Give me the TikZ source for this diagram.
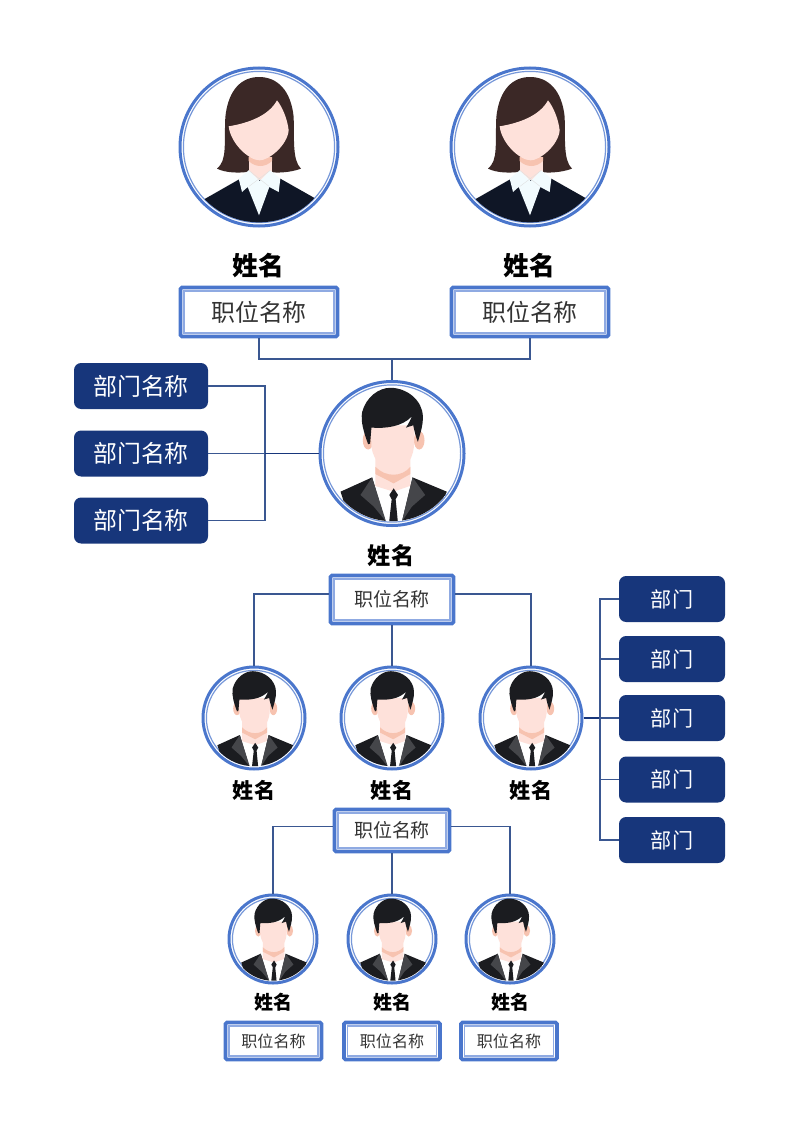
\documentclass[tikz,border=0pt]{standalone}
\usepackage{fontspec}
\setmainfont{Noto Sans CJK SC}
\usetikzlibrary{positioning}
\def\px{.025cm}
\definecolor{ringblue}{HTML}{4A76CC}
\definecolor{ringpale}{HTML}{8FAAE2}
\definecolor{deptblue}{HTML}{17367B}
\definecolor{linkblue}{HTML}{3A5791}
\definecolor{hairbrown}{HTML}{3B2826}
\definecolor{skin}{HTML}{FEE1DA}
\definecolor{skindark}{HTML}{F7C3B0}
\definecolor{suitnavy}{HTML}{0F1626}
\definecolor{suitblack}{HTML}{1B1C20}
\definecolor{lapelgrey}{HTML}{45464A}
\tikzset{
  avatar/.style={circle,draw=ringblue,line width=3*\px,fill=white,inner sep=0pt,minimum size=#1*\px,
    path picture={\draw[ringblue!75,line width=1.2*\px] (path picture bounding box.center) circle (#1/2-3.4);}},
  jobbox/.style={draw=ringblue,line width=3.6*\px,fill=white,rounded corners=1pt,inner sep=0pt,text=black!80,
    path picture={\draw[ringpale,line width=1.4*\px,sharp corners] ([shift={(3.6,-3.6)}]path picture bounding box.south west) rectangle ([shift={(-3.6,3.6)}]path picture bounding box.north east);}},
  deptbox/.style={fill=deptblue,rounded corners=5pt,inner sep=0pt,text=white},
  link/.style={draw=linkblue,line width=1.25*\px},
  mainlink/.style={draw=deptblue,line width=1.8*\px},
  pics/womanhead/.style={code={
    \clip (0,0) circle (226);
    \fill[suitnavy] (-170,160) -- (-56,95) -- (64,95) -- (170,155) -- (170,260) -- (-170,260) -- cycle;
    \fill[hairbrown] (-126,65) .. controls (-95,40) and (-105,-10) .. (-101,-90) .. controls (-92,-175) and (-50,-210) .. (0,-210) .. controls (55,-210) and (96,-170) .. (104,-90) .. controls (106,-20) and (100,40) .. (126,65) .. controls (90,78) and (50,78) .. (34,75) -- (-36,75) .. controls (-60,78) and (-100,78) .. (-126,65) -- cycle;
    \fill[skin] (-31,30) rectangle (39,100);
    \fill[skindark] (-31,30) -- (-31,42) .. controls (-10,62) and (18,62) .. (39,42) -- (39,30) -- cycle;
    \fill[skin] (-91,-62) .. controls (-30,-72) and (30,-95) .. (54,-140) .. controls (70,-120) and (85,-85) .. (89,-50) .. controls (85,-5) and (30,40) .. (2,40) .. controls (-30,40) and (-85,-10) .. (-91,-62) -- cycle;
    \fill[white!95!cyan] (-61,95) -- (-31,70) -- (2,102) -- (34,70) -- (64,95) -- (59,135) -- (31,120) -- (0,205) -- (-34,120) -- (-51,135) -- cycle;
    \draw[black!12,line width=.3pt] (-31,70) -- (30,118) (34,70) -- (-30,118);
  }},
  pics/manhead/.style={code={
    \clip (0,0) circle (204);
    \fill[white] (-60,90) rectangle (62,210);
    \fill[skin] (-50,10) -- (55,10) -- (55,95) -- (62,95) -- (5,115) -- (-60,95) -- (-50,95) -- cycle;
    \fill[skindark] (-50,40) .. controls (-20,72) and (30,72) .. (55,40) -- (55,62) -- (5,90) -- (-50,62) -- cycle;
    \fill[skindark] (-72,-40) ellipse (16 and 28) (82,-40) ellipse (16 and 28);
    \fill[skin] (-64,-85) -- (68,-85) -- (66,-20) .. controls (62,25) and (30,56) .. (5,56) .. controls (-20,56) and (-56,25) .. (-62,-20) -- cycle;
    \fill[suitblack] (-72,-28) .. controls (-85,-65) and (-95,-95) .. (-90,-125) .. controls (-78,-170) and (-40,-198) .. (-5,-198) .. controls (45,-198) and (92,-160) .. (93,-112) .. controls (94,-85) and (85,-60) .. (78,-35) .. controls (72,-50) and (68,-65) .. (64,-85) -- (42,-78) .. controls (50,-90) and (55,-100) .. (60,-112) .. controls (30,-80) and (-20,-75) .. (-62,-78) -- (-66,-30) -- cycle;
    \fill[suitblack] (-155,115) -- (-60,72) -- (-20,205) -- (-20,225) -- (-120,225) -- cycle;
    \fill[suitblack] (165,115) -- (62,72) -- (30,205) -- (30,225) -- (120,225) -- cycle;
    \fill[lapelgrey] (-60,72) -- (-95,125) -- (-55,160) -- (-18,205) -- cycle;
    \fill[lapelgrey] (62,72) -- (100,125) -- (60,160) -- (30,205) -- cycle;
    \fill[suitblack] (5,105) -- (-8,125) -- (-1,138) -- (-9,210) -- (18,210) -- (11,138) -- (18,125) -- cycle;
  }}
}
\begin{document}
\begin{tikzpicture}[x=.025cm,y=-.025cm]
\useasboundingbox (0,0) rectangle (800,1130);
\def\bignum{\fontsize{17}{20}\selectfont}
\def\midnum{\fontsize{13.5}{16}\selectfont}
\def\smallnum{\fontsize{11.4}{14}\selectfont}
\def\deptnum{\fontsize{15}{18}\selectfont}

\node[avatar=158] (wa) at (259,147) {};
\node[avatar=158] (wb) at (530,147) {};
\node[avatar=144] (boss) at (392,453.5) {};
\pic[scale=80/240] at (wa.center) {womanhead};
\pic[scale=80/240] at (wb.center) {womanhead};
\pic[scale=73/220] at (boss.center) {manhead};

\node[font=\fontsize{18.4}{20}\selectfont\bfseries] (wan) at (258.5,266) {姓名};
\node[font=\fontsize{18.4}{20}\selectfont\bfseries] (wbn) at (529.5,266) {姓名};
\node[jobbox,minimum width=157*\px,minimum height=49*\px,font=\bignum] (wat) at (259,312) {职位名称};
\node[jobbox,minimum width=157*\px,minimum height=49*\px,font=\bignum] (wbt) at (530,312) {职位名称};
\node[font=\fontsize{16.5}{20}\selectfont\bfseries] (bossn) at (391,556) {姓名};
\node[jobbox,minimum width=123*\px,minimum height=48*\px,font=\midnum] (bosst) at (392,599.5) {职位名称};

\foreach \name/\ypos in {da/386,db/453.5,dc/520.5}
  \node[deptbox,minimum width=134*\px,minimum height=46*\px,font=\bignum] (\name) at (141,\ypos) {部门名称};
\foreach \name/\ypos in {ea/599,eb/659,ec/718,ed/779.5,ee/840}
  \node[deptbox,minimum width=106*\px,minimum height=46*\px,font=\deptnum] (\name) at (672,\ypos) {部门};

\foreach \name/\xpos in {ma/254,mb/392,mc/531}{
  \node[avatar=102] (\name) at (\xpos,718) {};
  \pic[scale=52/220] at (\name.center) {manhead};
  \node[font=\deptnum\bfseries] (\name n) at (\xpos,790) {姓名};
}
\node[jobbox,minimum width=115*\px,minimum height=42*\px,font=\midnum] (mbt) at (392,830.5) {职位名称};

\foreach \name/\xpos/\boxpos in {sa/273/273.5,sb/392/392,sc/510/509}{
  \node[avatar=88] (\name) at (\xpos,939) {};
  \pic[scale=45/220] at (\name.center) {manhead};
  \node[font=\fontsize{13.5}{16}\selectfont\bfseries] (\name n) at (\xpos,1002.5) {姓名};
  \node[jobbox,minimum width=96*\px,minimum height=37*\px,font=\smallnum] (\name t) at (\boxpos,1041) {职位名称};
}

\coordinate (topjoin) at (392,359);
\coordinate (leftspine) at (265,453.5);
\coordinate (rightspine) at (600,718);
\draw[link] (wat.south) |- (topjoin) -| (wbt.south);
\draw[link] (topjoin) -- (boss.north);
\draw[link] (da.east) -| (leftspine) |- (dc.east);
\draw[link] (db.east) -- (leftspine);
\draw[mainlink] (leftspine) -- (boss.west);

\draw[link] ([yshift=4pt]bosst.west) -| (ma.north);
\draw[link] (bosst.south) -- (mb.north);
\draw[link] ([yshift=4pt]bosst.east) -| (mc.north);
\draw[mainlink] (mc.east) -- (rightspine);
\draw[link] (rightspine) -- (ec.west);
\draw[link] (ea.west) -| (rightspine) |- (ee.west);
\draw[link] (eb.west) -| (rightspine);
\draw[link] (ed.west) -| (rightspine);

\draw[link] ([yshift=3pt]mbt.west) -| (sa.north);
\draw[link] (mbt.south) -- (sb.north);
\draw[link] ([yshift=3pt]mbt.east) -| (sc.north);
\end{tikzpicture}
\end{document}
